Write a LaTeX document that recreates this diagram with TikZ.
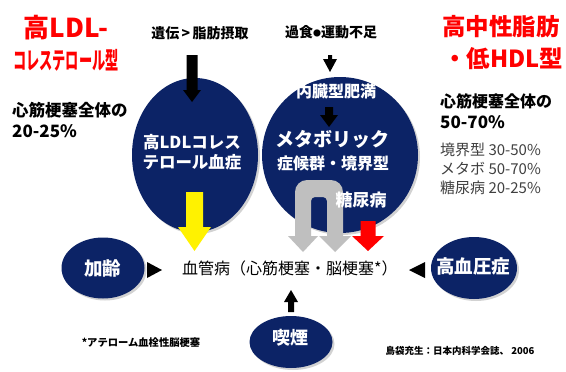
\documentclass[tikz,border=0pt]{standalone}
\usepackage{fontspec}
\setmainfont{Noto Sans CJK JP}
\usetikzlibrary{shapes.geometric,shadows}
\definecolor{navy}{RGB}{12,35,102}
\definecolor{ttlred}{RGB}{255,0,0}
\definecolor{lgray}{RGB}{191,191,191}
\definecolor{dgray}{RGB}{64,64,64}
\newcommand\fsz[1]{\fontsize{#1}{#1}\selectfont}
% colour, x, ytop, ytip, shaft width, head width, head length
\newcommand\blkarrow[7]{%
  \fill[#1] ({#2-#5/2},#3) -- ({#2+#5/2},#3) -- ({#2+#5/2},{#4-#7}) -- ({#2+#6/2},{#4-#7})
    -- (#2,#4) -- ({#2-#6/2},{#4-#7}) -- ({#2-#5/2},{#4-#7}) -- cycle;}
\tikzset{
  blob/.style={ellipse, fill=navy, inner sep=0pt,
    drop shadow={opacity=0.35, shadow xshift=2pt, shadow yshift=-2pt}},
  wtxt/.style={text=white, font=\bfseries, inner sep=0pt, align=center},
  btxt/.style={text=black, font=\bfseries, inner sep=0pt, align=left},
  rtxt/.style={text=ttlred, font=\bfseries, inner sep=0pt, align=center},
  gtxt/.style={text=dgray, inner sep=0pt, anchor=west},
}
\begin{document}
\begin{tikzpicture}[x=1pt,y=-1pt]
\useasboundingbox (0,0) rectangle (566,372);
\fill[white] (0,0) rectangle (566,372);

% ellipses
\node[blob, minimum width=126pt, minimum height=154pt] (ldl) at (195,155) {};
\node[blob, minimum width=156pt, minimum height=156pt] (mets) at (340,155) {};
\node[blob, minimum width=83pt, minimum height=61pt] (age) at (103,268) {};
\node[blob, minimum width=86pt, minimum height=62pt] (htn) at (474,268) {};
\node[blob, minimum width=83pt, minimum height=52pt] (smk) at (291,342) {};

% arrows
\blkarrow{black}{192}{55}{102}{11}{18}{12}
\blkarrow{black}{330}{55}{72}{4}{14}{13}
\blkarrow{black}{329}{107}{127}{8}{18}{12}
\blkarrow{yellow}{194.5}{192}{251}{17}{33}{24}
\blkarrow{ttlred}{368}{221}{251}{15}{32}{15}
% gray U arrow
\fill[lgray] (303,252) -- (288,236) -- (295,236) [rounded corners=12pt] -- (295,180) -- (343,180)
  [sharp corners] -- (343,236) -- (351,236) -- (335,252) -- (319,236) -- (327,236)
  [rounded corners=4pt] -- (327,197) -- (311,197) [sharp corners] -- (311,236) -- (318,236) -- cycle;
% side triangles
\fill[black] (147,262) -- (162,270) -- (147,278) -- cycle;
\fill[black] (425,262) -- (409,270) -- (425,278) -- cycle;
\blkarrow{black}{291}{312}{290}{6}{14}{-12}

% titles
\node[rtxt] (t1) at (66,28) {\fsz{26}高LDL-};
\node[rtxt] (t2) at (66,60) {\scalebox{0.55}[1]{\fsz{24}コレステロール型}};
\node[rtxt] (t3) at (501,27) {\fsz{23.5}高中性脂肪};
\node[rtxt] (t4) at (503,59) {\fsz{23.5}・低HDL型};

\node[btxt, anchor=west] (l1) at (12,110) {\fsz{16.5}心筋梗塞全体の};
\node[btxt, anchor=west] (l2) at (12,131) {\fsz{17}20-25\%};
\node[btxt, anchor=west] (r1) at (440,101) {\fsz{16}心筋梗塞全体の};
\node[btxt, anchor=west] (r2) at (440,122) {\fsz{17}50-70\%};
\node[gtxt] (g1) at (440,150) {\fsz{15}境界型\ 30-50\%};
\node[gtxt] (g2) at (440,169) {\fsz{15}メタボ\ 50-70\%};
\node[gtxt] (g3) at (440,188) {\fsz{15}糖尿病\ 20-25\%};

\node[btxt] (c1) at (200,33) {\fsz{14}遺伝\,>\,脂肪摂取};
\node[btxt] (c2) at (331,32.5) {\fsz{14}過食\raisebox{1.5pt}{\fsz{8}●}運動不足};

% ellipse texts
\node[wtxt] at (192,152.5) {\fsz{16.5}高LDLコレス\\[3pt]\fsz{16.5}テロール血症};
\node[wtxt] at (336,91) {\fsz{16}内臓型肥満};
\node[wtxt] at (332,139) {\fsz{19}メタボリック};
\node[wtxt] at (333,163) {\fsz{16}症候群・境界型};
\node[wtxt] at (361,200) {\fsz{17}糖尿病};
\node[wtxt] at (age.center) {\fsz{18.5}加齢};
\node[wtxt] at (473,266) {\fsz{18.5}高血圧症};
\node[wtxt] at (290,338) {\fsz{18}喫煙};

\node[inner sep=0pt, anchor=west] (vd) at (182,268) {\fsz{16}血管病（心筋梗塞・脳梗塞*）};
\node[btxt] (n1) at (141,343) {\fsz{10.3}*アテローム血栓性脳梗塞};
\node[btxt] (n2) at (460,351) {\fsz{9.5}島袋充生：日本内科学会誌、 2006};
\end{tikzpicture}
\end{document}
